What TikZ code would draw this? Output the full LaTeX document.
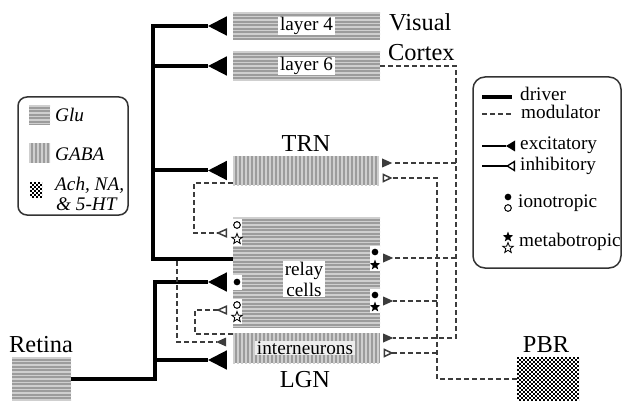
\documentclass[tikz,border=0pt]{standalone}
\usepackage{fontspec}
\setmainfont{Liberation Serif}
\usetikzlibrary{arrows.meta,shapes.geometric,fit}
\newcommand\fsml{\fontsize{16.4}{18}\selectfont}
\newcommand\fbig{\fontsize{20.8}{22}\selectfont}
\definecolor{boxgray}{HTML}{9C9C9C}
\definecolor{stripe}{HTML}{CFCFCF}
\definecolor{modcol}{HTML}{3C3C3C}
\tikzset{
  hstr/.style={fill=boxgray, path picture={
    \foreach \k in {0,...,45}{\draw[stripe, line width=0.035cm]
      ([yshift=-\k*0.105cm-0.03cm]path picture bounding box.north west) -- ++(200,0);}}},
  vstr/.style={fill=boxgray, path picture={
    \foreach \k in {0,...,50}{\draw[stripe, line width=0.035cm]
      ([xshift=\k*0.12cm+0.03cm]path picture bounding box.north west) -- ++(0,60);}}},
  chk/.style={fill=white, path picture={
    \foreach \i in {0,...,17}{\foreach \j in {0,...,12}{
      \fill[black] ([xshift=\i*0.12cm, yshift=-\j*0.12cm]path picture bounding box.north west) rectangle ++(1.8,1.8);
      \fill[black] ([xshift=\i*0.12cm+0.06cm, yshift=-\j*0.12cm-0.06cm]path picture bounding box.north west) rectangle ++(1.8,1.8);}}}},
  area/.style={inner sep=0, draw=none},
  lab/.style={fill=white, inner xsep=0.05cm, inner ysep=0.01cm, font=\fsml},
  txt/.style={inner sep=0, font=\fsml},
  bigtxt/.style={inner sep=0, font=\fbig},
  drv/.style={line width=0.12cm, black},
  mdl/.style={line width=0.045cm, modcol, dash pattern=on 0.15cm off 0.09cm},
  tipbig/.style={-{Triangle[reversed, length=0.56cm, width=0.58cm, line width=0pt]}, shorten >=0.18cm},
  tipexR/.style={-{Triangle[reversed, length=0.3cm, width=0.27cm, line width=0pt]}, shorten >=0.09cm},
  tipinR/.style={-{Triangle[reversed, open, fill=white, length=0.3cm, width=0.27cm]}, shorten >=0.1cm},
  tipinL/.style={-{Triangle[reversed, open, fill=white, length=0.33cm, width=0.28cm]}, shorten >=0.17cm},
  tipexL/.style={-{Triangle[reversed, length=0.3cm, width=0.27cm, line width=0pt]}, shorten >=0.2cm},
  ionf/.style={circle, fill=black, inner sep=0, minimum size=0.2cm},
  iono/.style={circle, draw=black, fill=white, line width=0.03cm, inner sep=0, minimum size=0.2cm},
  metf/.style={star, star points=5, star point ratio=2.4, fill=black, inner sep=0, minimum size=0.33cm},
  meto/.style={star, star points=5, star point ratio=2.4, draw=black, fill=white, line width=0.025cm, inner sep=0, minimum size=0.33cm},
  wpatch/.style={fill=white, inner sep=0, draw=none},
  legbox/.style={draw=black!80, line width=0.045cm, inner sep=0}
}
\begin{document}
\begin{tikzpicture}[x=0.03cm, y=-0.03cm]
\useasboundingbox (0,0) rectangle (625,401);

% ---------- boxes ----------
\node[area, hstr, fit={(233,12) (380,40)}] (l4) {};
\node[area, hstr, fit={(233,51) (380,81)}] (l6) {};
\node[area, vstr, fit={(233,156) (379,185)}] (trn) {};
\node[area, hstr, fit={(233,217) (380,328)}] (relay) {};
\node[area, vstr, fit={(233,333) (380,363)}] (intn) {};
\node[area, hstr, fit={(12,357) (71,401)}] (retina) {};
\node[area, chk, fit={(517,357) (579,401)}] (pbr) {};

\node[lab] (tl4) at (l4) {layer 4};
\node[lab] (tl6) at (l6) {layer 6};
\node[lab, align=center] (trel) at (304,279) {relay\\cells};
\node[lab, fill=black!7] (tint) at (305,348) {interneurons};

\node[bigtxt, anchor=base west] (tvis) at (389,31) {Visual};
\node[bigtxt, anchor=base west] (tcor) at (388,61) {Cortex};
\node[bigtxt, anchor=base] (ttrn) at (306,152) {TRN};
\node[bigtxt, anchor=base] (tlgn) at (305,387) {LGN};
\node[bigtxt, anchor=base west] (tret) at (9,352) {Retina};
\node[bigtxt, anchor=base] (tpbr) at (546,352) {PBR};

% ---------- white patches and receptor symbols ----------
\node[wpatch, fit={(233,219) (242,246)}] (wp1) {};
\node[wpatch, fit={(233,275) (242,290)}] (wp2) {};
\node[wpatch, fit={(233,299) (242,324)}] (wp3) {};
\node[wpatch, fit={(370,246) (380,271)}] (wp4) {};
\node[wpatch, fit={(370,289) (380,313)}] (wp5) {};

\node[iono] (s1) at (237,225) {};
\node[meto] (s2) at (237,239) {};
\node[ionf] (s3) at (237,282) {};
\node[iono] (s4) at (237,305) {};
\node[meto] (s5) at (237,317) {};
\node[ionf] (s6) at (375,252) {};
\node[metf] (s7) at (375,265) {};
\node[ionf] (s8) at (375,295) {};
\node[metf] (s9) at (375,307) {};

% ---------- driver connections ----------
\coordinate (sp) at (153,0);
\coordinate (rs) at (155,0);
\draw[drv, tipbig] (relay.west |- 0,259) -| (sp |- l4) -- (l4.west);
\draw[drv, tipbig] (sp |- l6) -- (l6.west);
\draw[drv, tipbig] (sp |- trn) -- (trn.west);
\draw[drv, tipbig] (retina.east) -| (rs |- 0,282) -- (relay.west |- 0,282);
\draw[drv, tipbig] (rs |- 0,360) -- (intn.west |- 0,360);

% ---------- modulator connections ----------
\coordinate (m6) at (456,0);
\coordinate (mp) at (437,0);
\draw[mdl, tipexR] (l6.east) -| (m6 |- 0,338) -- (intn.east |- 0,338);
\draw[mdl, tipexR] (m6 |- 0,163) -- (trn.east |- 0,163);
\draw[mdl, tipexR] (m6 |- 0,258) -- (relay.east |- 0,258);
\draw[mdl, tipinR] (pbr.west) -| (mp |- 0,178) -- (trn.east |- 0,178);
\draw[mdl, tipexR] (mp |- 0,301) -- (relay.east |- 0,301);
\draw[mdl, tipinR] (mp |- 0,353) -- (intn.east |- 0,353);
\draw[mdl, tipinL] (trn.west |- 0,183) -| (194,233) -- (relay.west |- 0,233);
\draw[mdl, tipinL] (intn.west |- 0,334) -| (195,310) -- (relay.west |- 0,310);
\coordinate (col) at (177,261);
\draw[mdl, tipexL] (col) |- (intn.west |- 0,342);

% ---------- left legend ----------
\node[legbox, rounded corners=0.27cm, fit={(18,97) (128,215)}] (legL) {};
\node[area, hstr, fit={(29,105) (50,125)}] (swg) {};
\node[area, vstr, fit={(29,143) (50,163)}] (swa) {};
\node[area, chk, fit={(30,182) (42,197)}] (swc) {};
\node[txt, anchor=base west, font=\fsml\itshape] (tglu) at (55,122) {Glu};
\node[txt, anchor=base west, font=\fsml\itshape] (tgaba) at (55,161) {GABA};
\node[txt, anchor=base west, font=\fsml\itshape] (tach) at (55,191) {Ach, NA,};
\node[txt, anchor=base west, font=\fsml\itshape] (tht) at (56,210) {\& 5-HT};

% ---------- right legend ----------
\node[legbox, rounded corners=0.36cm, fit={(473,77) (621,268)}] (legR) {};
\coordinate (a1) at (482,97);  \coordinate (b1) at (512,97);
\coordinate (a2) at (482,114); \coordinate (b2) at (512,114);
\coordinate (a3) at (482,146); \coordinate (b3) at (515,146);
\coordinate (a4) at (482,166); \coordinate (b4) at (515,166);
\draw[line width=0.1cm] (a1) -- (b1);
\draw[mdl, line width=0.035cm] (a2) -- (b2);
\draw[line width=0.04cm, -{Triangle[reversed, length=0.27cm, width=0.33cm, line width=0pt]}] (a3) -- (b3);
\draw[line width=0.04cm, -{Triangle[reversed, open, fill=white, length=0.27cm, width=0.33cm]}] (a4) -- (b4);
\node[txt, anchor=base west] (tdr) at (520,101) {driver};
\node[txt, anchor=base west] (tmo) at (521,119) {modulator};
\node[txt, anchor=base west] (tex) at (520,150) {excitatory};
\node[txt, anchor=base west] (tin) at (520,171) {inhibitory};
\node[ionf] (ls1) at (508,197) {};
\node[iono] (ls2) at (508,208) {};
\node[txt, anchor=base west] (tio) at (518,207) {ionotropic};
\node[metf] (ls3) at (508,237) {};
\node[meto] (ls4) at (508,248) {};
\node[txt, anchor=base west] (tme) at (519,246) {metabotropic};
\end{tikzpicture}
\end{document}
